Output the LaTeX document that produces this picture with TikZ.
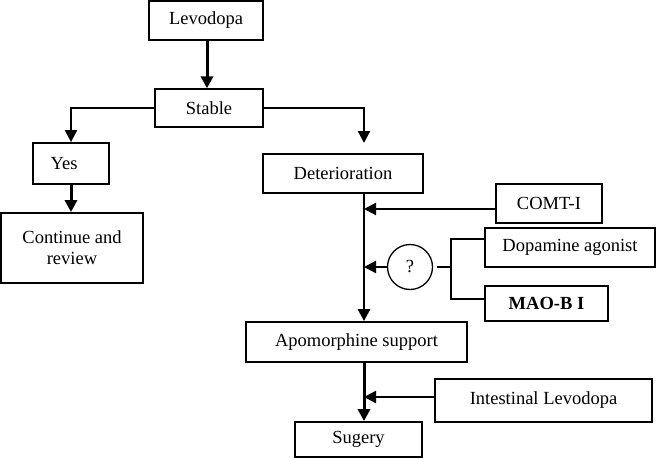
\documentclass[tikz,border=0pt]{standalone}
\usepackage{fontspec}
\setmainfont{Liberation Serif}
\usetikzlibrary{arrows.meta}
\begin{document}
\begin{tikzpicture}[x=1pt,y=-1pt,font=\fontsize{18.5}{21}\selectfont,>={Triangle[length=12pt,width=12pt]},
  box/.style={draw,line width=1.8pt,inner sep=0pt,align=center},
  flow/.style={->,line width=3pt},
  feed/.style={->,line width=2.2pt}]
  \useasboundingbox (0,0) rectangle (656,458);
  % boxes
  \node[box,minimum width=114pt,minimum height=39pt] (lev) at (206,20.5) {Levodopa};
  \node[box,line width=1.3pt,minimum width=108pt,minimum height=38pt] (stab) at (209,108) {Stable};
  \node[box,minimum width=76pt,minimum height=41pt] (yes) at (71,163.5) {Yes\hspace{14pt}};
  \node[box,minimum width=142pt,minimum height=70pt] (cont) at (72,248) {Continue and\\review};
  \node[box,minimum width=160pt,minimum height=39pt] (det) at (343,173.5) {Deterioration};
  \node[box,minimum width=106pt,minimum height=39pt] (comt) at (549,203.5) {COMT-I};
  \node[draw,circle,line width=1.3pt,minimum size=45pt,inner sep=0pt] (q) at (410,267) {?};
  \node[box,line width=1.5pt,minimum width=170pt,minimum height=39pt] (dop) at (570,247.5) {Dopamine agonist};
  \node[box,minimum width=123pt,minimum height=35pt] (mao) at (546.5,303.5) {\bfseries MAO-B I};
  \node[box,minimum width=221pt,minimum height=40pt] (apo) at (356.5,342) {Apomorphine support};
  \node[box,minimum width=217pt,minimum height=43pt] (int) at (543.5,400.5) {Intestinal Levodopa};
  \node[box,minimum width=127pt,minimum height=35pt] (sug) at (358.5,439.5) {Sugery};
  \coordinate (spine) at (364,0);
  \coordinate (dtop) at (364,143);
  \coordinate (br) at (451,267);
  % connectors
  \draw[flow] (lev.south -| 207,0) -- (stab.north -| 207,0);
  \draw[line width=2.2pt,->] (stab.west) -| (yes.north);
  \draw[line width=2.2pt,->] (stab.east) -| (dtop);
  \draw[flow] (yes.south) -- (cont.north -| yes.south);
  \draw[line width=2.6pt,->] (det.south -| spine) -- (apo.north -| spine);
  \draw[feed] ([yshift=-5.5pt]comt.west) -- ([yshift=-5.5pt]comt.west -| spine);
  \draw[feed] (q.west) -- (q.west -| spine);
  \draw[line width=1.3pt] ([xshift=4pt]q.east) -- (br);
  \draw[line width=1.3pt] (br) |- ([yshift=8.5pt]dop.west);
  \draw[line width=1.3pt] (br) |- ([yshift=4.5pt]mao.west);
  \draw[flow] (apo.south -| spine) -- (sug.north -| spine);
  \draw[feed] ([yshift=3.5pt]int.west) -- ([yshift=3.5pt]int.west -| spine);
\end{tikzpicture}
\end{document}
